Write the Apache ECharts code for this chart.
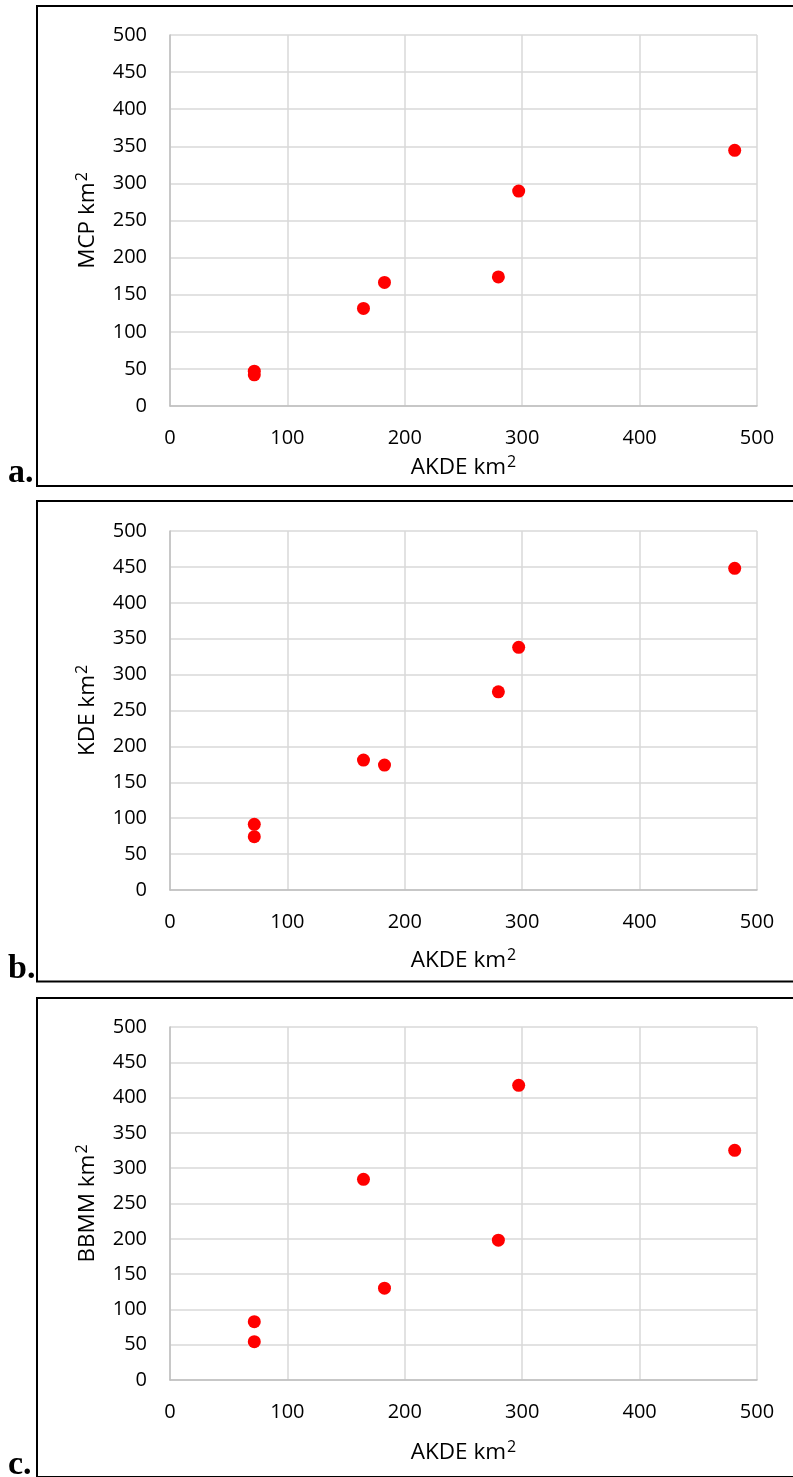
<!DOCTYPE html>
<html>
<head>
<meta charset="utf-8">
<script src="https://cdn.jsdelivr.net/npm/echarts@6/dist/echarts.min.js"></script>
<style>
html,body{margin:0;padding:0;background:#fff;}
#c{width:793px;height:1477px;}
</style>
</head>
<body>
<div id="c"></div>
<script>
// Data (km²)
const akde = [71.8, 71.8, 164.8, 182.7, 279.7, 297, 481];
const mcp  = [47, 42, 131.5, 166.6, 174, 289.6, 344.6];
const kde  = [91.5, 74.3, 181, 174, 276, 338, 448];
const bbmm = [82.6, 54.3, 284.3, 130, 198, 417.4, 325.3];
const panelLetters = ['a.', 'b.', 'c.'];
const yNames = ['MCP', 'KDE', 'BBMM'];
const xName = 'AKDE';

const FONT = 'Open Sans';
const chart = echarts.init(document.getElementById('c'), null, {renderer: 'canvas'});

const grids = [
  {left: 170, width: 587, top: 35, height: 371},
  {left: 170, width: 587, top: 531, height: 359},
  {left: 170, width: 587, top: 1027, height: 353}
];
const xNameGaps = [48, 57, 59];
const boxes = [
  {y: 6, h: 480, base: 486},
  {y: 501, h: 480.5, base: 982},
  {y: 998, h: 479, base: 1478}
];
const ySeries = [mcp, kde, bbmm];

const rich = {
  a: {fontFamily: FONT, fontSize: 22.5, color: '#000', lineHeight: 28},
  s: {fontFamily: FONT, fontSize: 16, color: '#000', padding: [0, 0, 11, 1]}
};

const xAxes = grids.map((g, i) => ({
  gridIndex: i, type: 'value', min: 0, max: 500, interval: 100,
  name: '{a|' + xName + ' km}{s|2}', nameLocation: 'middle', nameGap: xNameGaps[i],
  nameTextStyle: {rich: rich},
  axisLine: {show: true, lineStyle: {color: '#bfbfbf', width: 1.5}},
  axisTick: {show: false},
  axisLabel: {margin: 22, fontFamily: FONT, fontSize: 20, color: '#000'},
  splitLine: {show: true, lineStyle: {color: '#d9d9d9', width: 1.5}}
}));
const yAxes = grids.map((g, i) => ({
  gridIndex: i, type: 'value', min: 0, max: 500, interval: 50,
  name: '{a|' + yNames[i] + ' km}{s|2}', nameLocation: 'middle', nameGap: 68,
  nameTextStyle: {rich: rich},
  axisLine: {show: true, lineStyle: {color: '#bfbfbf', width: 1.5}},
  axisTick: {show: false},
  axisLabel: {margin: 23, fontFamily: FONT, fontSize: 20, color: '#000'},
  splitLine: {show: true, lineStyle: {color: '#d9d9d9', width: 1.5}}
}));
const series = ySeries.map((ys, i) => ({
  type: 'scatter', xAxisIndex: i, yAxisIndex: i,
  symbol: 'circle', symbolSize: 13,
  itemStyle: {color: '#ff0000', opacity: 1},
  data: akde.map((x, k) => [x, ys[k]])
}));

const graphic = [];
boxes.forEach((b, i) => {
  graphic.push({type: 'rect', shape: {x: 37, y: b.y, width: 800, height: b.h},
    style: {fill: 'none', stroke: '#000', lineWidth: 2}, z: 10});
  graphic.push({type: 'text', left: 8, top: b.base - 30,
    style: {text: panelLetters[i], font: 'bold 34px "Liberation Serif"', fill: '#000',
            textVerticalAlign: 'top'}, z: 11});
});

chart.setOption({
  animation: false,
  backgroundColor: '#fff',
  grid: grids,
  xAxis: xAxes,
  yAxis: yAxes,
  series: series,
  graphic: graphic
});
</script>
</body>
</html>
